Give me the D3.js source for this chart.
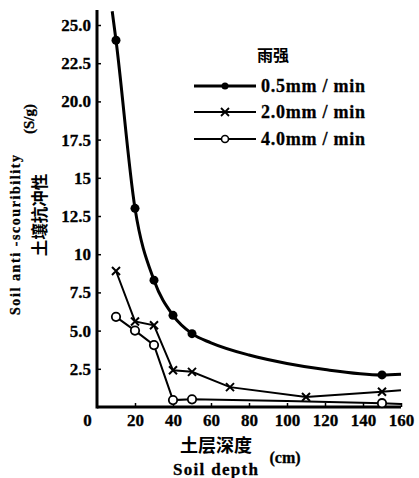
<!DOCTYPE html>
<html><head><meta charset="utf-8">
<script src="https://cdn.jsdelivr.net/npm/d3@7"></script>
<style>body{margin:0;background:#fff}svg{display:block}</style>
</head><body><svg id="c" width="419" height="478"></svg>
<script>
// ---- data ----
const xTicks = [0, 20, 40, 60, 80, 100, 120, 140, 160];
const yTicks = [2.5, 5, 7.5, 10, 12.5, 15, 17.5, 20, 22.5, 25];
const yTickLabels = ["2.5", "5.0", "7.5", "10", "12.5", "15", "17.5", "20.0", "22.5", "25.0"];
const seriesNames = ["0.5mm / min", "2.0mm / min", "4.0mm / min"];
// marked observations
const depth05 = [10, 20, 30, 40, 50, 150];
const val05 = [24.0, 13.0, 8.3, 6.0, 4.8, 2.1];
// smooth fitted curve for 0.5mm/min
const curveDepth05 = [8, 10, 20, 30, 40, 50, 60, 80, 100, 120, 150, 160];
const curveVal05 = [25.9, 24.0, 13.0, 8.3, 6.0, 4.8, 4.2, 3.4, 2.85, 2.45, 2.1, 2.15];
const depth20 = [10, 20, 30, 40, 50, 70, 110, 150, 160];
const val20 = [8.9, 5.6, 5.35, 2.4, 2.3, 1.3, 0.65, 1.0, 1.1];
const mark20 = [true, true, true, true, true, true, true, true, false];
const depth40 = [10, 20, 30, 40, 50, 100, 150, 160];
const val40 = [5.9, 5.0, 4.05, 0.45, 0.5, 0.4, 0.25, 0.2];
const mark40 = [true, true, true, true, true, false, true, false];

// ---- layout ----
const svg = d3.select("#c");
const x = d3.scaleLinear().domain([0, 160]).range([97, 401]);
const y = d3.scaleLinear().domain([0, 25]).range([407, 25]);
const serif = "'Liberation Serif','DejaVu Serif',serif";
const cjk = "'Noto Sans CJK SC',sans-serif";

// axes
const yAxis = d3.axisLeft(y).tickValues(yTicks).tickSize(-4).tickPadding(6)
  .tickFormat((d, i) => yTickLabels[i]);
const gy = svg.append("g").attr("transform", `translate(${x(0)},0)`).call(yAxis);
gy.select(".domain").remove();
gy.selectAll("text").attr("font-family", serif).attr("font-weight", "bold")
  .attr("font-size", 17).attr("fill", "#000").attr("stroke", "#000").attr("stroke-width", 0.3);
gy.selectAll("line").attr("stroke", "#000").attr("stroke-width", 1.5);

const xAxis = d3.axisBottom(x).tickValues(xTicks).tickSize(-4).tickPadding(7);
const gx = svg.append("g").attr("transform", `translate(0,${y(0)})`).call(xAxis);
gx.select(".domain").remove();
gx.selectAll("text").attr("font-family", serif).attr("font-weight", "bold")
  .attr("font-size", 17).attr("fill", "#000").attr("stroke", "#000").attr("stroke-width", 0.3);
gx.selectAll(".tick").filter(d => d === 0).select("text").attr("dx", -10);
gx.selectAll(".tick").filter(d => d === 0).select("line").remove();
gx.selectAll("line").attr("stroke", "#000").attr("stroke-width", 1.5);

// axis lines
svg.append("line").attr("x1", x(0)).attr("x2", x(0)).attr("y1", 10).attr("y2", y(0) + 1.5)
  .attr("stroke", "#000").attr("stroke-width", 3);
svg.append("line").attr("x1", x(0)).attr("x2", x(160)).attr("y1", y(0)).attr("y2", y(0))
  .attr("stroke", "#000").attr("stroke-width", 3);

// series
const line = d3.line().x(d => x(d[0])).y(d => y(d[1]));
const c05 = curveDepth05.map((d, i) => [d, curveVal05[i]]);
svg.append("path").attr("d", line.curve(d3.curveMonotoneX)(c05))
  .attr("fill", "none").attr("stroke", "#000").attr("stroke-width", 3);
svg.selectAll(".m05").data(depth05.map((d, i) => [d, val05[i]])).enter().append("circle")
  .attr("cx", d => x(d[0])).attr("cy", d => y(d[1])).attr("r", 4.5).attr("fill", "#000");

const p20 = depth20.map((d, i) => [d, val20[i]]);
svg.append("path").attr("d", d3.line().x(d => x(d[0])).y(d => y(d[1])).curve(d3.curveLinear)(p20))
  .attr("fill", "none").attr("stroke", "#000").attr("stroke-width", 2);
const xs = p20.filter((d, i) => mark20[i]);
svg.selectAll(".m20").data(xs).enter().append("path")
  .attr("d", d => { const cx = x(d[0]), cy = y(d[1]), s = 4;
    return `M${cx - s},${cy - s}L${cx + s},${cy + s}M${cx - s},${cy + s}L${cx + s},${cy - s}`; })
  .attr("stroke", "#000").attr("stroke-width", 2);

const p40 = depth40.map((d, i) => [d, val40[i]]);
svg.append("path").attr("d", d3.line().x(d => x(d[0])).y(d => y(d[1])).curve(d3.curveLinear)(p40))
  .attr("fill", "none").attr("stroke", "#000").attr("stroke-width", 2);
svg.selectAll(".m40").data(p40.filter((d, i) => mark40[i])).enter().append("circle")
  .attr("cx", d => x(d[0])).attr("cy", d => y(d[1])).attr("r", 4.2)
  .attr("fill", "#fff").attr("stroke", "#000").attr("stroke-width", 1.8);

// legend
svg.append("text").attr("x", 273).attr("y", 61).attr("text-anchor", "middle")
  .attr("font-family", cjk).attr("font-weight", "bold").attr("font-size", 16).text("雨强");
const legY = [86, 112, 139];
seriesNames.forEach((n, i) => {
  const g = svg.append("g");
  g.append("line").attr("x1", 194).attr("x2", 256).attr("y1", legY[i]).attr("y2", legY[i])
    .attr("stroke", "#000").attr("stroke-width", i === 0 ? 3 : 2);
  const cx = 225, cy = legY[i];
  if (i === 0) g.append("circle").attr("cx", cx).attr("cy", cy).attr("r", 3.5).attr("fill", "#000");
  if (i === 1) g.append("path").attr("d", `M${cx-4},${cy-4}L${cx+4},${cy+4}M${cx-4},${cy+4}L${cx+4},${cy-4}`)
    .attr("stroke", "#000").attr("stroke-width", 1.8);
  if (i === 2) g.append("circle").attr("cx", cx).attr("cy", cy).attr("r", 3.5)
    .attr("fill", "#fff").attr("stroke", "#000").attr("stroke-width", 1.6);
  g.append("text").attr("x", 261).attr("y", legY[i] + 6).attr("font-family", serif)
    .attr("font-weight", "bold").attr("font-size", 18).attr("textLength", 104)
    .attr("stroke", "#000").attr("stroke-width", 0.3).text(n);
});

// axis titles
svg.append("text").attr("transform", "translate(20,235) rotate(-90)").attr("text-anchor", "middle")
  .attr("font-family", serif).attr("font-weight", "bold").attr("font-size", 14)
  .attr("textLength", 160).attr("stroke", "#000").attr("stroke-width", 0.3)
  .text("Soil  anti -scouribility");
svg.append("text").attr("transform", "translate(34,119) rotate(-90)").attr("text-anchor", "middle")
  .attr("font-family", serif).attr("font-weight", "bold").attr("font-size", 15)
  .attr("stroke", "#000").attr("stroke-width", 0.3).text("(S/g)");
svg.append("text").attr("transform", "translate(46,215) rotate(-90)").attr("text-anchor", "middle")
  .attr("font-family", cjk).attr("font-weight", "bold").attr("font-size", 16.5).text("土壤抗冲性");
svg.append("text").attr("x", 216).attr("y", 452).attr("text-anchor", "middle")
  .attr("font-family", cjk).attr("font-weight", "bold").attr("font-size", 18).text("土层深度");
svg.append("text").attr("x", 173).attr("y", 475)
  .attr("font-family", serif).attr("font-weight", "bold").attr("font-size", 17)
  .attr("textLength", 85).attr("stroke", "#000").attr("stroke-width", 0.3).text("Soil  depth");
svg.append("text").attr("x", 285).attr("y", 463).attr("text-anchor", "middle")
  .attr("font-family", serif).attr("font-weight", "bold").attr("font-size", 16)
  .attr("stroke", "#000").attr("stroke-width", 0.3).text("(cm)");
</script></body></html>
